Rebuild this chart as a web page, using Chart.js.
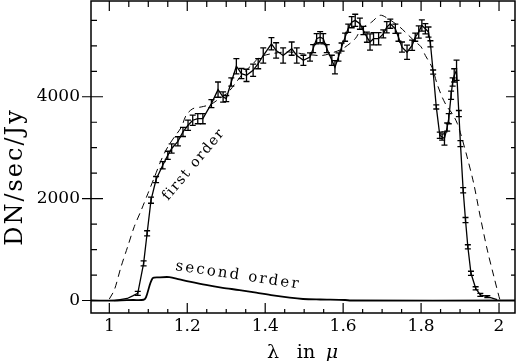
<!DOCTYPE html>
<html>
<head>
<meta charset="utf-8">
<script src="https://cdn.jsdelivr.net/npm/chart.js@4.4.0/dist/chart.umd.min.js"></script>
<style>
html, body { margin: 0; padding: 0; background: #fff; }
</style>
</head>
<body>
<canvas id="myChart" width="519" height="361"></canvas>
<script>
// measured first order (solid, with error bars)
var firstX = [1.013, 1.046, 1.060, 1.073, 1.088, 1.097, 1.107, 1.120, 1.137, 1.150,
    1.160, 1.176, 1.189, 1.202, 1.214, 1.227, 1.240, 1.262, 1.279, 1.292,
    1.300, 1.313, 1.326, 1.339, 1.352, 1.369, 1.382, 1.395, 1.416, 1.428,
    1.446, 1.468, 1.481, 1.498, 1.515, 1.523, 1.532, 1.541, 1.549, 1.558,
    1.571, 1.579, 1.588, 1.596, 1.605, 1.613, 1.622, 1.631, 1.643, 1.652,
    1.661, 1.669, 1.678, 1.691, 1.703, 1.712, 1.721, 1.734, 1.742, 1.751,
    1.764, 1.777, 1.785, 1.794, 1.802, 1.811, 1.819, 1.824, 1.831, 1.839,
    1.848, 1.854, 1.860, 1.867, 1.871, 1.877, 1.881, 1.885, 1.891, 1.897,
    1.901, 1.908, 1.914, 1.920, 1.928, 1.940, 1.952, 1.970, 1.995];
var firstY = [0, 40, 90, 140, 730, 1320, 1970, 2375, 2655, 2850,
    2985, 3125, 3310, 3440, 3540, 3570, 3570, 3865, 4140, 3995,
    3965, 4290, 4600, 4455, 4420, 4520, 4650, 4810, 5040, 4910,
    4810, 4945, 4810, 4715, 4780, 4945, 5140, 5170, 5140, 4945,
    4715, 4580, 4780, 4975, 5170, 5345, 5465, 5500, 5435, 5300,
    5170, 5075, 5140, 5140, 5235, 5365, 5435, 5335, 5170, 4975,
    4875, 5010, 5170, 5270, 5400, 5335, 5270, 5040, 4485, 3800,
    3245, 3210, 3180, 3405, 3570, 4030, 4290, 4420, 4520, 3670,
    3080, 2165, 1580, 1055, 535, 240, 110, 75, 20];
var firstErr = [0, 0, 0, 40, 50, 50, 60, 60, 70, 80,
    90, 90, 90, 100, 100, 100, 100, 80, 150, 100,
    60, 80, 150, 100, 120, 120, 100, 150, 120, 150,
    150, 130, 150, 100, 80, 80, 100, 110, 100, 80,
    100, 130, 80, 80, 80, 80, 110, 120, 110, 80,
    100, 160, 120, 120, 80, 110, 90, 90, 80, 100,
    140, 100, 80, 120, 110, 100, 100, 60, 40, 40,
    60, 60, 130, 80, 100, 80, 80, 130, 200, 60,
    60, 50, 50, 40, 40, 30, 30, 20, 0];

// model first order (dashed)
var modelX = [1.000, 1.013, 1.030, 1.047, 1.064, 1.082, 1.099, 1.116, 1.133, 1.150,
    1.167, 1.185, 1.197, 1.214, 1.236, 1.260, 1.280, 1.305, 1.326, 1.343,
    1.369, 1.386, 1.420, 1.460, 1.500, 1.545, 1.575, 1.600, 1.631, 1.647,
    1.673, 1.695, 1.716, 1.746, 1.764, 1.785, 1.800, 1.811, 1.828, 1.841,
    1.854, 1.867, 1.880, 1.893, 1.904, 1.918, 1.935, 1.952, 1.970, 1.987,
    2.000, 2.003];
var modelY = [30, 210, 660, 1055, 1450, 1775, 2100, 2425, 2755, 3015,
    3210, 3405, 3635, 3765, 3800, 3850, 3950, 4090, 4290, 4455,
    4650, 4780, 4850, 4880, 4840, 4810, 4870, 4950, 5140, 5335,
    5465, 5600, 5530, 5365, 5235, 5080, 4980, 4810, 4580, 4255,
    3995, 3800, 3670, 3475, 3210, 2820, 2300, 1640, 990, 465,
    75, 0];

// second order (solid, bottom)
var secondX = [0.953, 1.020, 1.060, 1.088, 1.094, 1.111, 1.129, 1.154, 1.180, 1.206,
    1.248, 1.291, 1.334, 1.377, 1.420, 1.463, 1.497, 1.541, 1.605, 1.620, 2.041];
var secondY = [0, 0, 10, 15, 60, 435, 455, 460, 415, 370,
    305, 250, 205, 153, 100, 55, 30, 20, 10, 0, 0];

var xTicks = [1, 1.2, 1.4, 1.6, 1.8, 2];
var yTicks = [0, 2000, 4000];

function pts(xs, ys) {
    return xs.map(function (x, i) { return { x: x, y: ys[i] }; });
}

var boxPlugin = {
    id: 'box',
    afterDatasetsDraw: function (chart) {
        var c = chart.ctx, a = chart.chartArea;
        var sx = chart.scales.x, sy = chart.scales.y;
        c.save();
        c.strokeStyle = '#000';

        // error bars
        c.lineWidth = 1.3;
        var meta = chart.getDatasetMeta(1);
        meta.data.forEach(function (p, i) {
            var e = firstErr[i];
            if (!e) return;
            var y1 = sy.getPixelForValue(firstY[i] + e);
            var y2 = sy.getPixelForValue(firstY[i] - e);
            c.beginPath();
            c.moveTo(p.x, y1); c.lineTo(p.x, y2);
            c.moveTo(p.x - 3, y1); c.lineTo(p.x + 3, y1);
            c.moveTo(p.x - 3, y2); c.lineTo(p.x + 3, y2);
            c.stroke();
        });

        // frame
        c.lineWidth = 1.5;
        c.strokeRect(a.left, a.top, a.right - a.left, a.bottom - a.top);

        // ticks
        c.lineWidth = 1.2;
        c.beginPath();
        var v, px, py, major;
        for (v = 1.0; v <= 2.0001; v += 0.05) {
            px = sx.getPixelForValue(v);
            major = Math.abs(v * 5 - Math.round(v * 5)) < 0.001;
            c.moveTo(px, a.bottom); c.lineTo(px, a.bottom - (major ? 10 : 4));
            c.moveTo(px, a.top); c.lineTo(px, a.top + (major ? 10 : 6));
        }
        for (v = 0; v <= 5500; v += 500) {
            py = sy.getPixelForValue(v);
            major = v % 2000 === 0;
            c.moveTo(a.left - (major ? 9 : 0), py); c.lineTo(a.left + (major ? 12 : 6), py);
            c.moveTo(a.right, py); c.lineTo(a.right - (major ? 9 : 4), py);
        }
        c.stroke();

        // curve labels
        c.fillStyle = '#000';
        c.font = '14px "DejaVu Serif"';
        c.letterSpacing = '1.5px';
        c.save();
        c.translate(168, 201);
        c.rotate(-50 * Math.PI / 180);
        c.fillText('first order', 0, 0);
        c.restore();

        c.font = '15px "DejaVu Serif"';
        c.letterSpacing = '2.2px';
        c.save();
        c.translate(175, 270);
        c.rotate(8.5 * Math.PI / 180);
        c.fillText('second order', 0, 0);
        c.restore();

        // axis titles
        c.font = '24px "DejaVu Serif"';
        c.letterSpacing = '2px';
        c.save();
        c.translate(22, (a.top + a.bottom) / 2 + 20);
        c.rotate(-Math.PI / 2);
        c.textAlign = 'center';
        c.fillText('DN/sec/Jy', 0, 0);
        c.restore();

        c.letterSpacing = '0px';
        var cx = (a.left + a.right) / 2;
        c.textAlign = 'center';
        c.font = '19px "DejaVu Serif"';
        c.fillText('\u03bb', cx - 30, 358);
        c.fillText('in', cx + 3, 358);
        c.font = 'italic 19px "DejaVu Serif"';
        c.fillText('\u03bc', cx + 29, 358);
        c.restore();
    }
};

Chart.defaults.font.family = '"DejaVu Serif"';
Chart.defaults.color = '#000';

var chart = new Chart(document.getElementById('myChart').getContext('2d'), {
    type: 'line',
    data: {
        datasets: [
            {
                label: 'model',
                data: pts(modelX, modelY),
                borderColor: '#000',
                borderWidth: 1,
                borderDash: [7, 5],
                tension: 0.3,
                pointRadius: 0,
                fill: false
            },
            {
                label: 'first order',
                data: pts(firstX, firstY),
                borderColor: '#000',
                borderWidth: 1.3,
                tension: 0,
                pointRadius: 0,
                fill: false
            },
            {
                label: 'second order',
                data: pts(secondX, secondY),
                borderColor: '#000',
                borderWidth: 1.8,
                tension: 0.3,
                pointRadius: 0,
                fill: false
            }
        ]
    },
    options: {
        responsive: false,
        animation: false,
        devicePixelRatio: 1,
        layout: { autoPadding: false, padding: { top: 1, right: 4, left: 0, bottom: 0 } },
        plugins: {
            legend: { display: false },
            tooltip: { enabled: false }
        },
        scales: {
            x: {
                type: 'linear',
                min: 0.953,
                max: 2.041,
                grid: { display: false, drawTicks: false, tickLength: 0 },
                border: { display: false },
                afterBuildTicks: function (s) { s.ticks = xTicks.map(function (v) { return { value: v }; }); },
                afterFit: function (s) { s.height = 48; s.paddingLeft = 0; s.paddingRight = 0; },
                ticks: {
                    padding: 3,
                    maxRotation: 0,
                    autoSkip: false,
                    font: { size: 17 },
                    callback: function (v) { return String(v); }
                }
            },
            y: {
                type: 'linear',
                min: -245,
                max: 5880,
                grid: { display: false, drawTicks: false, tickLength: 0 },
                border: { display: false },
                afterBuildTicks: function (s) { s.ticks = yTicks.map(function (v) { return { value: v }; }); },
                afterFit: function (s) { s.width = 91; s.paddingTop = 0; s.paddingBottom = 0; },
                ticks: {
                    padding: 11,
                    font: { size: 17 },
                    callback: function (v) { return String(v); }
                }
            }
        }
    },
    plugins: [boxPlugin]
});
</script>
</body>
</html>
